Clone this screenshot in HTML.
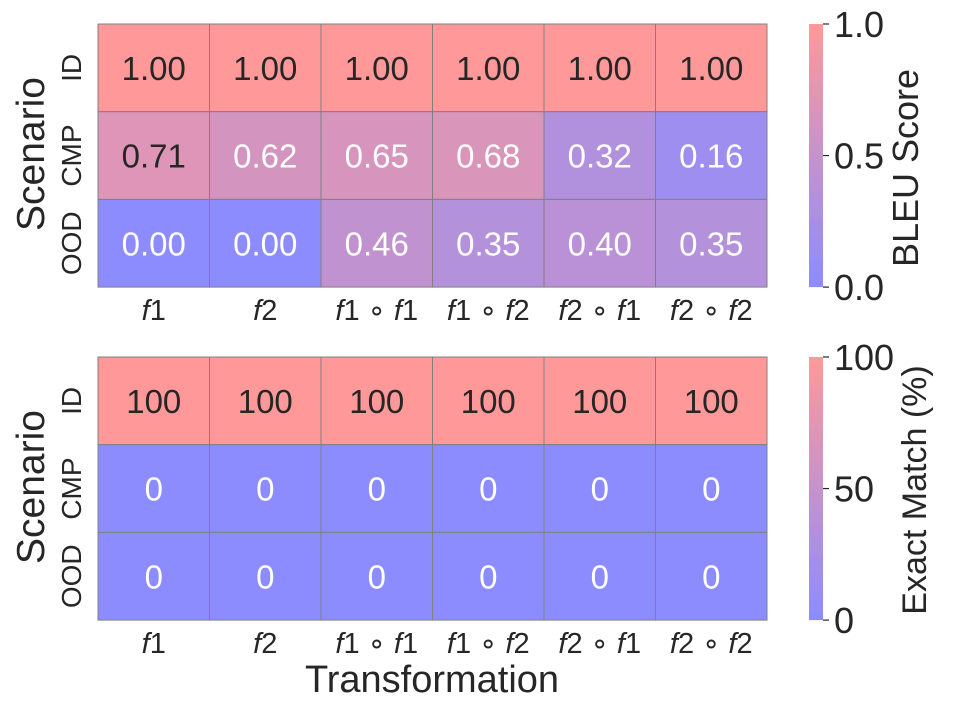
<!DOCTYPE html>
<html><head><style>body{margin:0;background:#fff}svg{display:block}text{font-family:"Liberation Sans",sans-serif;fill:#262626}</style></head>
<body>
<svg width="958" height="712" xmlns="http://www.w3.org/2000/svg">
<defs>
<linearGradient id="cb" x1="0" y1="1" x2="0" y2="0"><stop offset="0" stop-color="rgb(140,140,255)"/><stop offset="1" stop-color="rgb(255,153,153)"/></linearGradient>
</defs>
<script>
const svg=document.querySelector('svg');
const NS='http://www.w3.org/2000/svg';
function col(v){return `rgb(${Math.round(140+115*v)},${Math.round(140+13*v)},${Math.round(255-102*v)})`;}
function el(t,a,txt){const e=document.createElementNS(NS,t);for(const k in a)e.setAttribute(k,a[k]);if(txt!==undefined)e.textContent=txt;svg.appendChild(e);return e;}
const xl=['f1','f2','f1 ∘ f1','f1 ∘ f2','f2 ∘ f1','f2 ∘ f2'];
function heat(top,data,fmt,norm,cbl,ticks,cbc,cbx,cbf){
 const x0=98,cw=111.5,rh=87.7;
 data.forEach((row,r)=>row.forEach((v,c)=>{
  el('rect',{x:x0+c*cw,y:top+r*rh,width:cw,height:rh,fill:col(v/norm),stroke:'#808080','stroke-width':1});
  el('text',{x:x0+c*cw+cw/2,y:top+r*rh+rh/2+12,'text-anchor':'middle','font-size':33,style:'fill:'+(v/norm>0.7?'#262626':'#fff')},fmt(v));
 }));
 ['ID','CMP','OOD'].forEach((s,i)=>{const y=top+i*rh+rh/2;el('text',{x:0,y:0,transform:`translate(81,${y}) rotate(-90)`,'text-anchor':'middle','font-size':28},s);});
 el('text',{x:0,y:0,transform:`translate(44,${top+130}) rotate(-90)`,'text-anchor':'middle','font-size':39},'Scenario');
 xl.forEach((s,i)=>{const t=el('text',{x:x0+i*cw+cw/2,y:top+rh*3+33,'text-anchor':'middle','font-size':29});
  s.split(/(f\d)/).forEach(p=>{if(!p)return;const ts=document.createElementNS(NS,'tspan');if(/f\d/.test(p)){const a=document.createElementNS(NS,'tspan');a.setAttribute('font-style','italic');a.textContent='f';ts.appendChild(a);const b=document.createElementNS(NS,'tspan');b.textContent=p[1];ts.appendChild(b);}else ts.textContent=p;t.appendChild(ts);});});
 el('rect',{x:809,y:top,width:14,height:rh*3,fill:'url(#cb)'});
 ticks.forEach((tk,i)=>{const y=top+rh*3*(1-i/2);el('line',{x1:823,x2:829,y1:y,y2:y,stroke:'#262626','stroke-width':1.2});el('text',{x:834,y:y+13,'font-size':36},tk);});
 el('text',{x:0,y:0,transform:`translate(${cbx},${cbc}) rotate(-90)`,'text-anchor':'middle','font-size':cbf},cbl);
}
heat(24,[[1,1,1,1,1,1],[.71,.62,.65,.68,.32,.16],[0,0,.46,.35,.40,.35]],v=>v.toFixed(2),1,'BLEU Score',['0.0','0.5','1.0'],168,918,36);
heat(357,[[100,100,100,100,100,100],[0,0,0,0,0,0],[0,0,0,0,0,0]],v=>String(v),100,'Exact Match (%)',['0','50','100'],490,926,34);
el('text',{x:432,y:692,'text-anchor':'middle','font-size':38},'Transformation');
</script>
</svg>
</body></html>
